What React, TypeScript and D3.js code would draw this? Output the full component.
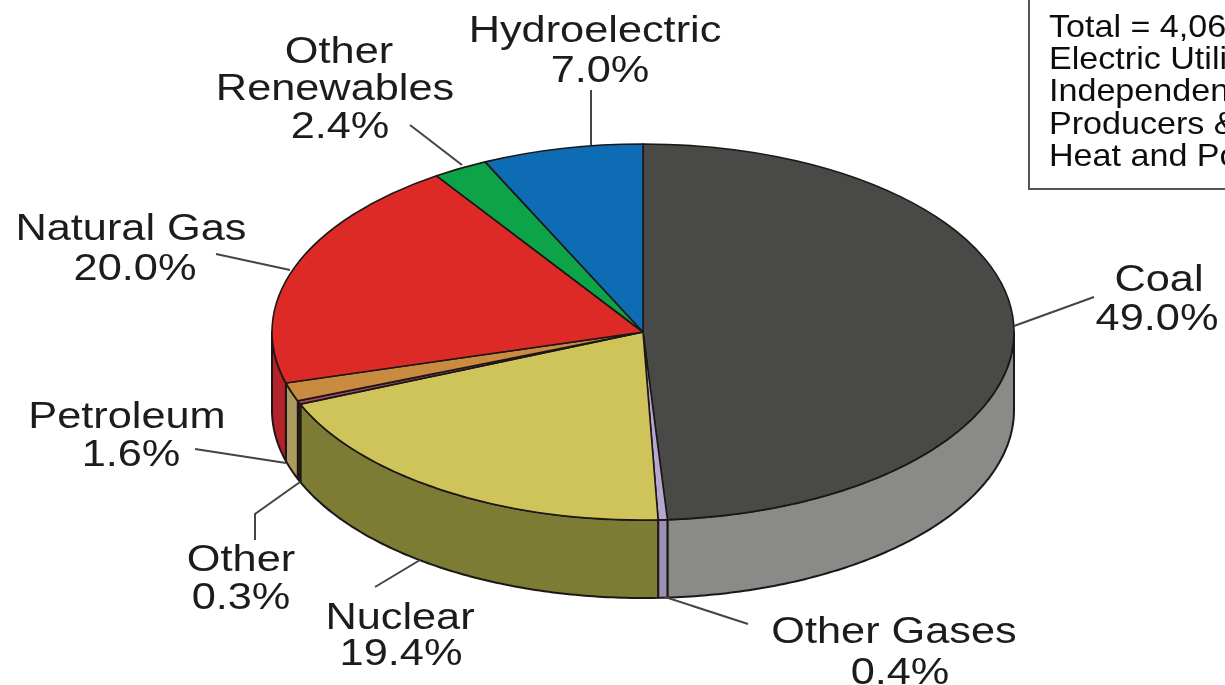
import React from 'react';
import * as d3 from 'd3';

const sources = ['Coal', 'Other Gases', 'Nuclear', 'Other', 'Petroleum', 'Natural Gas', 'Other Renewables', 'Hydroelectric'];
const shares = [49.0, 0.4, 19.4, 0.3, 1.6, 20.0, 2.4, 7.0];
const topColors = ['#4a4846', '#b5a7cf', '#cfc45a', '#a8466c', '#c98b40', '#dd2b28', '#0ba34a', '#0b6cb4'];
const wallColors = ['#8a8a88', '#9c90b4', '#7d7b36', '#3a2a18', '#ad9a60', '#b4212a', '#0a7a38', '#0a5088'];

const boxLines = ['Total = 4,064 Billion kWh', 'Electric Utilities,', 'Independent Power', 'Producers & Combined', 'Heat and Power'];

// label text with center x / baseline y per line
const labels = [
  { lines: ['Hydroelectric', '7.0%'], x: [595, 600], y: [42, 82] },
  { lines: ['Other', 'Renewables', '2.4%'], x: [339, 335, 340], y: [63, 100, 138] },
  { lines: ['Natural Gas', '20.0%'], x: [131, 135], y: [240, 280] },
  { lines: ['Coal', '49.0%'], x: [1159, 1157], y: [291, 330] },
  { lines: ['Petroleum', '1.6%'], x: [127, 131], y: [428, 466] },
  { lines: ['Other', '0.3%'], x: [241, 241], y: [571, 609] },
  { lines: ['Nuclear', '19.4%'], x: [400, 401], y: [629, 665] },
  { lines: ['Other Gases', '0.4%'], x: [894, 900], y: [643, 684] },
];

const leaders = [
  [[591, 90], [591, 145]],
  [[410, 125], [462, 165]],
  [[216, 254], [290, 270]],
  [[1094, 297], [1014, 326]],
  [[195, 449], [286, 463]],
  [[255, 540], [255, 514], [300, 482]],
  [[375, 587], [420, 560]],
  [[665, 597], [748, 624]],
];

const width = 1225;
const height = 685;
const cx = 643;
const cy = 332;
const rx = 371;
const ry = 188;
const depth = 78;
const textStretch = 1.155;

const labelFont = '"Liberation Sans", Arial, sans-serif';

export default function App() {
  const slices = d3.pie<number>().sort(null).value((d) => d)(shares);
  const arc = d3.arc<d3.PieArcDatum<number>>().innerRadius(0).outerRadius(rx);

  // side wall of a slice, only the part facing the viewer
  const wall = d3
    .area<number>()
    .x((a) => cx + rx * Math.sin(a))
    .y0((a) => cy - ry * Math.cos(a))
    .y1((a) => cy - ry * Math.cos(a) + depth);

  const wallPath = (s: d3.PieArcDatum<number>) => {
    const a0 = Math.max(s.startAngle, Math.PI / 2);
    const a1 = Math.min(s.endAngle, (3 * Math.PI) / 2);
    if (a1 <= a0) return null;
    const n = Math.max(2, Math.ceil((a1 - a0) * 80));
    const angles = d3.range(n + 1).map((i) => a0 + ((a1 - a0) * i) / n);
    return wall(angles);
  };

  const leaderLine = d3.line();

  return (
    <svg
      width={width}
      height={height}
      viewBox={`0 0 ${width} ${height}`}
      style={{ position: 'absolute', left: 0, top: 0, background: '#fff' }}
    >
      <defs>
        <filter id="soft" x="-5%" y="-5%" width="110%" height="110%">
          <feGaussianBlur stdDeviation="0.7" />
        </filter>
        <clipPath id="page">
          <rect x={0} y={0} width={width} height={height} />
        </clipPath>
      </defs>
      <g filter="url(#soft)">
        <g>
          {slices.map((s, i) => {
            const d = wallPath(s);
            return d ? (
              <path key={sources[i]} d={d} fill={wallColors[i]} stroke="#1e1816" strokeWidth={2} strokeLinejoin="round" />
            ) : null;
          })}
        </g>
        <g transform={`translate(${cx},${cy}) scale(1,${ry / rx})`}>
          {slices.map((s, i) => (
            <path
              key={sources[i]}
              d={arc(s) ?? undefined}
              fill={topColors[i]}
              stroke="#1e1816"
              strokeWidth={1.6}
              strokeLinejoin="round"
              vectorEffect="non-scaling-stroke"
            />
          ))}
        </g>
        <g fill="none" stroke="#444" strokeWidth={2}>
          {leaders.map((pts, i) => (
            <path key={i} d={leaderLine(pts as [number, number][]) ?? undefined} />
          ))}
        </g>
        <g fontFamily={labelFont} fontSize={37.5} fill="#1c1c1c" textAnchor="middle">
          {labels.map((l) =>
            l.lines.map((t, j) => (
              <text key={l.lines[0] + j} transform={`translate(${l.x[j]},${l.y[j]}) scale(${textStretch},1)`}>
                {t}
              </text>
            )),
          )}
        </g>
        <rect x={1029} y={-3} width={240} height={192} fill="#fff" stroke="#555" strokeWidth={2} />
        <g clipPath="url(#page)" fontFamily={labelFont} fontSize={31} fill="#111">
          {boxLines.map((t, i) => (
            <text key={t} transform={`translate(1049,${37 + i * 32.2}) scale(1.1,1)`}>
              {t}
            </text>
          ))}
        </g>
      </g>
    </svg>
  );
}
